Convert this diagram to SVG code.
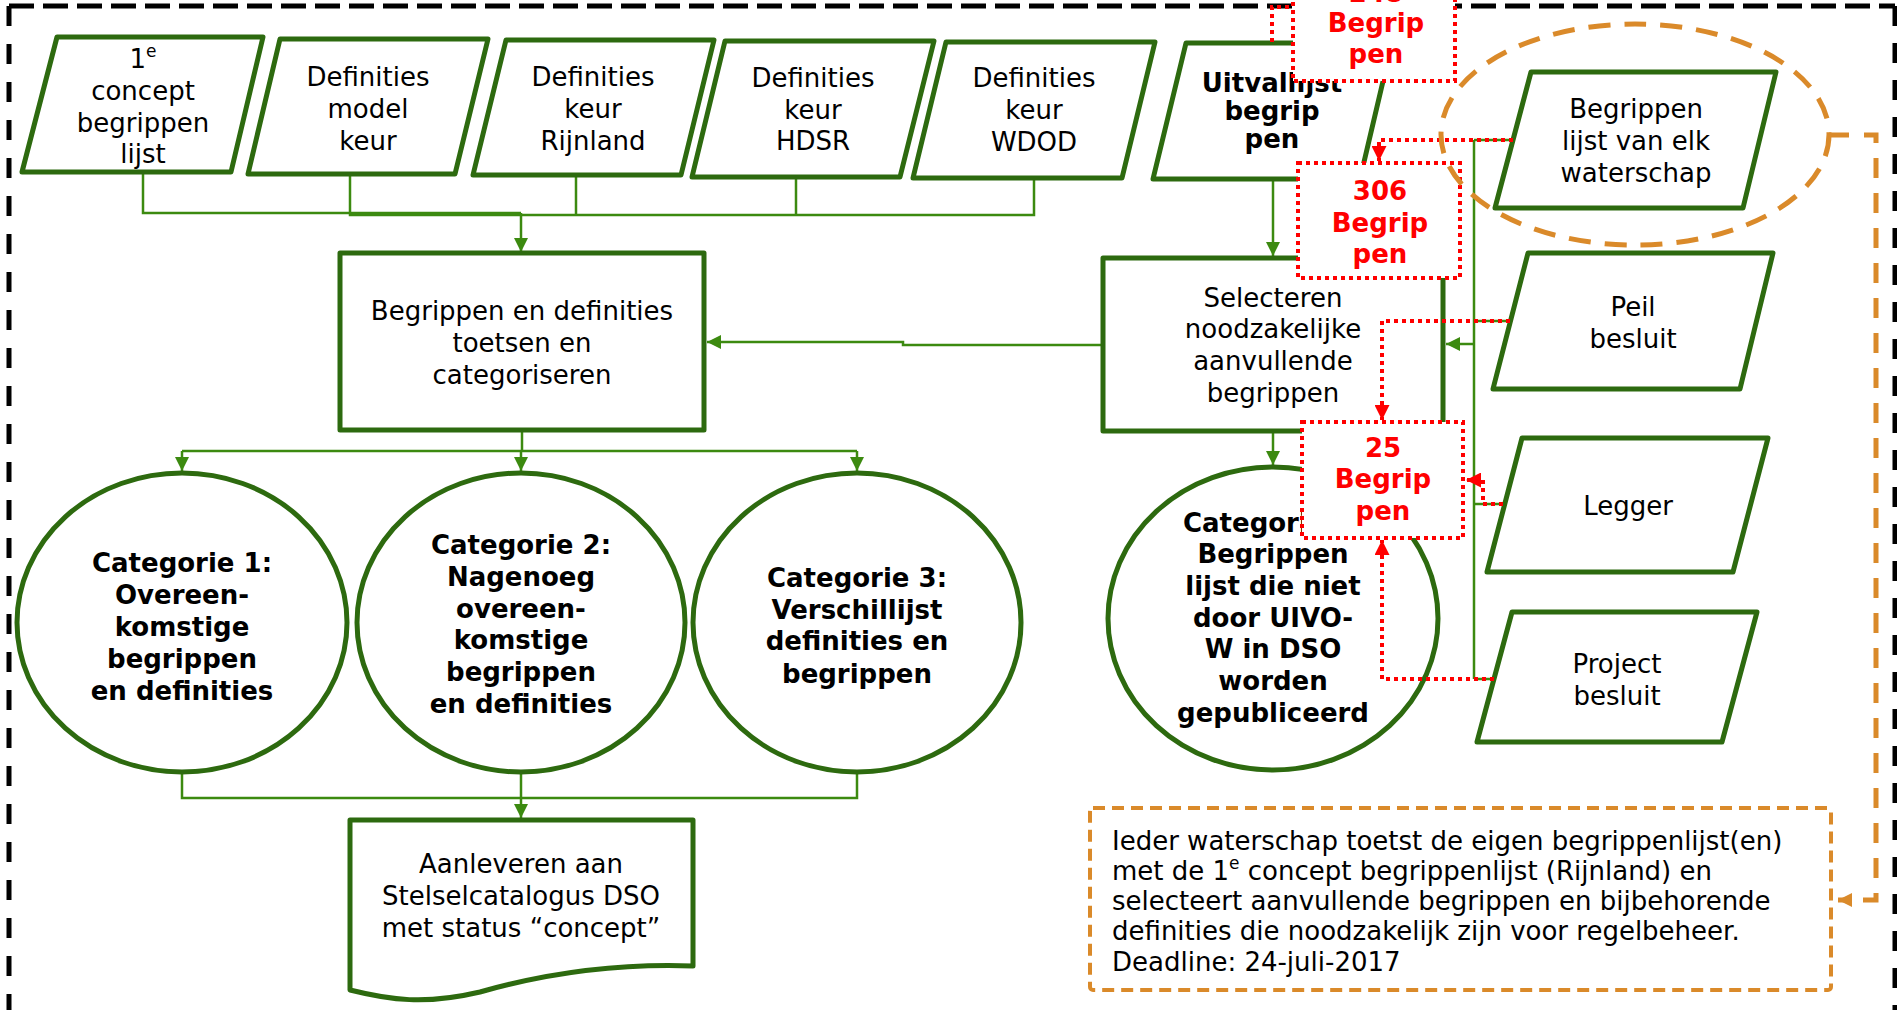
<svg xmlns="http://www.w3.org/2000/svg" width="1897" height="1010" viewBox="0 0 1897 1010">
<defs>
<style>
.node{fill:#fff;stroke:#2d6a0f;stroke-width:5;stroke-linejoin:round}
.t{font-family:"DejaVu Sans",Verdana,sans-serif;font-size:26px;fill:#000;text-anchor:middle}
.tb{font-family:"DejaVu Sans",Verdana,sans-serif;font-size:26px;font-weight:bold;fill:#000;text-anchor:middle}
.red{fill:#fff;stroke:#ff0000;stroke-width:4;stroke-dasharray:4 4}
.rt{font-family:"DejaVu Sans",Verdana,sans-serif;font-size:26px;font-weight:bold;fill:#ff0000;text-anchor:middle}
.conn{fill:none;stroke:#3c8a10;stroke-width:2.5}
.rconn{fill:none;stroke:#ff0000;stroke-width:4;stroke-dasharray:4 4}
.oconn{fill:none;stroke:#da8a2a;stroke-width:5;stroke-dasharray:20 15}
.border{fill:none;stroke:#000;stroke-width:5}
</style>
<marker id="ag" viewBox="0 0 10 10" refX="10" refY="5" markerWidth="14" markerHeight="14" markerUnits="userSpaceOnUse" orient="auto"><path d="M0,0 L10,5 L0,10 z" fill="#3c8a10"/></marker>
<marker id="ar" viewBox="0 0 10 10" refX="10" refY="5" markerWidth="15" markerHeight="15" markerUnits="userSpaceOnUse" orient="auto"><path d="M0,0 L10,5 L0,10 z" fill="#ff0000"/></marker>
<marker id="ao" viewBox="0 0 10 10" refX="10" refY="5" markerWidth="14" markerHeight="14" markerUnits="userSpaceOnUse" orient="auto"><path d="M0,0 L10,5 L0,10 z" fill="#da8a2a"/></marker>
</defs>
<rect width="1897" height="1010" fill="#fff"/>
<g id="outer-border">
<path class="border" d="M9,6 H1895" stroke-dasharray="25 9"/>
<path class="border" d="M9,6 V1010" stroke-width="6" stroke-dasharray="20 18"/>
<path class="border" d="M1895,6 V1010" stroke-dasharray="20 17"/>
</g>
<g id="connectors">
<path class="conn" d="M143,172 V213 H521"/>
<path class="conn" d="M350,174 V215 H1034 V178"/>
<path class="conn" d="M576,175 V215"/>
<path class="conn" d="M796,177 V216"/>
<path class="conn" d="M521,213 V252" marker-end="url(#ag)"/>
<path class="conn" d="M1103,345 H903 V342 H707" marker-end="url(#ag)"/>
<path class="conn" d="M522,430 V451"/>
<path class="conn" d="M182,451 H857"/>
<path class="conn" d="M182,451 V471" marker-end="url(#ag)"/>
<path class="conn" d="M521,451 V471" marker-end="url(#ag)"/>
<path class="conn" d="M857,451 V471" marker-end="url(#ag)"/>
<path class="conn" d="M182,772 V798 H857 V772"/>
<path class="conn" d="M521,772 V818" marker-end="url(#ag)"/>
<path class="conn" d="M1273,179 V256" marker-end="url(#ag)"/>
<path class="conn" d="M1273,431 V465" marker-end="url(#ag)"/>
<path class="conn" d="M1474,140 V679"/>
<path class="conn" d="M1474,140 H1513 M1474,321 H1510 M1474,504 H1505 M1474,679 H1494"/>
<path class="conn" d="M1474,344 H1446" marker-end="url(#ag)"/>
</g>
<g id="n-concept">
<polygon class="node" points="57,37 263,37 231,172 22,172"/>
<text class="t" x="143" y="68">1<tspan font-size="17" dy="-11">e</tspan></text>
<text class="t" x="143" y="100">concept</text>
<text class="t" x="143" y="132">begrippen</text>
<text class="t" x="143" y="163">lijst</text>
</g>
<g id="n-model">
<polygon class="node" points="280,39 488,39 455,174 248,174"/>
<text class="t" x="368" y="86">Definities</text>
<text class="t" x="368" y="118">model</text>
<text class="t" x="368" y="150">keur</text>
</g>
<g id="n-rijnland">
<polygon class="node" points="506,40 714,40 681,175 473,175"/>
<text class="t" x="593" y="86">Definities</text>
<text class="t" x="593" y="118">keur</text>
<text class="t" x="593" y="150">Rijnland</text>
</g>
<g id="n-hdsr">
<polygon class="node" points="725,41 934,41 900,177 692,177"/>
<text class="t" x="813" y="87">Definities</text>
<text class="t" x="813" y="119">keur</text>
<text class="t" x="813" y="150">HDSR</text>
</g>
<g id="n-wdod">
<polygon class="node" points="946,42 1155,42 1122,178 913,178"/>
<text class="t" x="1034" y="87">Definities</text>
<text class="t" x="1034" y="119">keur</text>
<text class="t" x="1034" y="151">WDOD</text>
</g>
<g id="n-uitval">
<polygon class="node" points="1186,43 1392,43 1360,179 1153,179"/>
<text class="tb" x="1272" y="92" font-size="23">Uitvallijst</text>
<text class="tb" x="1272" y="120" font-size="23">begrip</text>
<text class="tb" x="1272" y="148" font-size="23">pen</text>
</g>
<g id="n-toetsen">
<rect class="node" x="340" y="253" width="364" height="177"/>
<text class="t" x="522" y="320">Begrippen en definities</text>
<text class="t" x="522" y="352">toetsen en</text>
<text class="t" x="522" y="384">categoriseren</text>
</g>
<g id="n-selecteren">
<rect class="node" x="1103" y="258" width="340" height="173"/>
<text class="t" x="1273" y="307">Selecteren</text>
<text class="t" x="1273" y="338">noodzakelijke</text>
<text class="t" x="1273" y="370">aanvullende</text>
<text class="t" x="1273" y="402">begrippen</text>
</g>
<g id="n-cat1">
<ellipse class="node" cx="182" cy="622.5" rx="165" ry="149.5"/>
<text class="tb" x="182" y="572">Categorie 1:</text>
<text class="tb" x="182" y="604">Overeen-</text>
<text class="tb" x="182" y="636">komstige</text>
<text class="tb" x="182" y="668">begrippen</text>
<text class="tb" x="182" y="700">en definities</text>
</g>
<g id="n-cat2">
<ellipse class="node" cx="521" cy="622.5" rx="164" ry="149.5"/>
<text class="tb" x="521" y="554">Categorie 2:</text>
<text class="tb" x="521" y="586">Nagenoeg</text>
<text class="tb" x="521" y="618">overeen-</text>
<text class="tb" x="521" y="649">komstige</text>
<text class="tb" x="521" y="681">begrippen</text>
<text class="tb" x="521" y="713">en definities</text>
</g>
<g id="n-cat3">
<ellipse class="node" cx="857" cy="622.5" rx="164" ry="149.5"/>
<text class="tb" x="857" y="587">Categorie 3:</text>
<text class="tb" x="857" y="619">Verschillijst</text>
<text class="tb" x="857" y="650">definities en</text>
<text class="tb" x="857" y="683">begrippen</text>
</g>
<g id="n-cat4">
<ellipse class="node" cx="1273" cy="618.5" rx="165" ry="151.5"/>
<text class="tb" x="1273" y="532">Categorie 4:</text>
<text class="tb" x="1273" y="563">Begrippen</text>
<text class="tb" x="1273" y="595">lijst die niet</text>
<text class="tb" x="1273" y="627">door UIVO-</text>
<text class="tb" x="1273" y="658">W in DSO</text>
<text class="tb" x="1273" y="690">worden</text>
<text class="tb" x="1273" y="722">gepubliceerd</text>
</g>
<g id="n-aanleveren">
<path class="node" d="M350,820 H693 V966 C610,963 540,975 480,992 C425,1005 390,1000 350,990 Z"/>
<text class="t" x="521" y="873">Aanleveren aan</text>
<text class="t" x="521" y="905">Stelselcatalogus DSO</text>
<text class="t" x="521" y="937">met status “concept”</text>
</g>
<g id="n-lijst">
<polygon class="node" points="1531,72 1776,72 1743,208 1495,208"/>
<text class="t" x="1636" y="118">Begrippen</text>
<text class="t" x="1636" y="150">lijst van elk</text>
<text class="t" x="1636" y="182">waterschap</text>
</g>
<g id="n-peil">
<polygon class="node" points="1528,253 1773,253 1740,389 1493,389"/>
<text class="t" x="1633" y="316">Peil</text>
<text class="t" x="1633" y="348">besluit</text>
</g>
<g id="n-legger">
<polygon class="node" points="1522,438 1768,438 1733,572 1487,572"/>
<text class="t" x="1628" y="515">Legger</text>
</g>
<g id="n-project">
<polygon class="node" points="1512,612 1757,612 1722,742 1477,742"/>
<text class="t" x="1617" y="673">Project</text>
<text class="t" x="1617" y="705">besluit</text>
</g>
<g id="red-connectors">
<path class="rconn" d="M1272,42 V7 H1293"/>
<path class="rconn" d="M1513,140 H1379 V161" marker-end="url(#ar)"/>
<path class="rconn" d="M1510,321 H1382 V420" marker-end="url(#ar)"/>
<path class="rconn" d="M1503,504 H1483 V480 H1466" marker-end="url(#ar)"/>
<path class="rconn" d="M1494,679 H1382 V540" marker-end="url(#ar)"/>
</g>
<g id="r-248">
<rect class="red" x="1293" y="-40" width="162" height="121"/>
<text class="rt" x="1376" y="2">248</text>
<text class="rt" x="1376" y="32">Begrip</text>
<text class="rt" x="1376" y="63">pen</text>
</g>
<g id="r-306">
<rect class="red" x="1298" y="163" width="162" height="115"/>
<text class="rt" x="1380" y="200">306</text>
<text class="rt" x="1380" y="232">Begrip</text>
<text class="rt" x="1380" y="263">pen</text>
</g>
<g id="r-25">
<rect class="red" x="1302" y="422" width="161" height="116"/>
<text class="rt" x="1383" y="457">25</text>
<text class="rt" x="1383" y="488">Begrip</text>
<text class="rt" x="1383" y="520">pen</text>
</g>
<g id="o-ellipse">
<ellipse cx="1635" cy="134.5" rx="194" ry="110.5" fill="none" stroke="#da8a2a" stroke-width="5" stroke-dasharray="22 14"/>
</g>
<g id="o-connector">
<path class="oconn" d="M1829,135 H1876 V900 H1838" marker-end="url(#ao)" stroke-width="4"/>
</g>
<g id="n-note">
<rect x="1090" y="808" width="741" height="182" rx="3" fill="#fff" stroke="#da8a2a" stroke-width="4" stroke-dasharray="12 7"/>
<text font-family="DejaVu Sans,Verdana,sans-serif" font-size="26" fill="#000">
<tspan x="1112" y="850">Ieder waterschap toetst de eigen begrippenlijst(en)</tspan>
<tspan x="1112" y="880">met de 1<tspan font-size="17" dy="-11">e</tspan><tspan dy="11"> concept begrippenlijst (Rijnland) en</tspan></tspan>
<tspan x="1112" y="910">selecteert aanvullende begrippen en bijbehorende</tspan>
<tspan x="1112" y="940">definities die noodzakelijk zijn voor regelbeheer.</tspan>
<tspan x="1112" y="971">Deadline: 24-juli-2017</tspan>
</text>
</g>
</svg>
